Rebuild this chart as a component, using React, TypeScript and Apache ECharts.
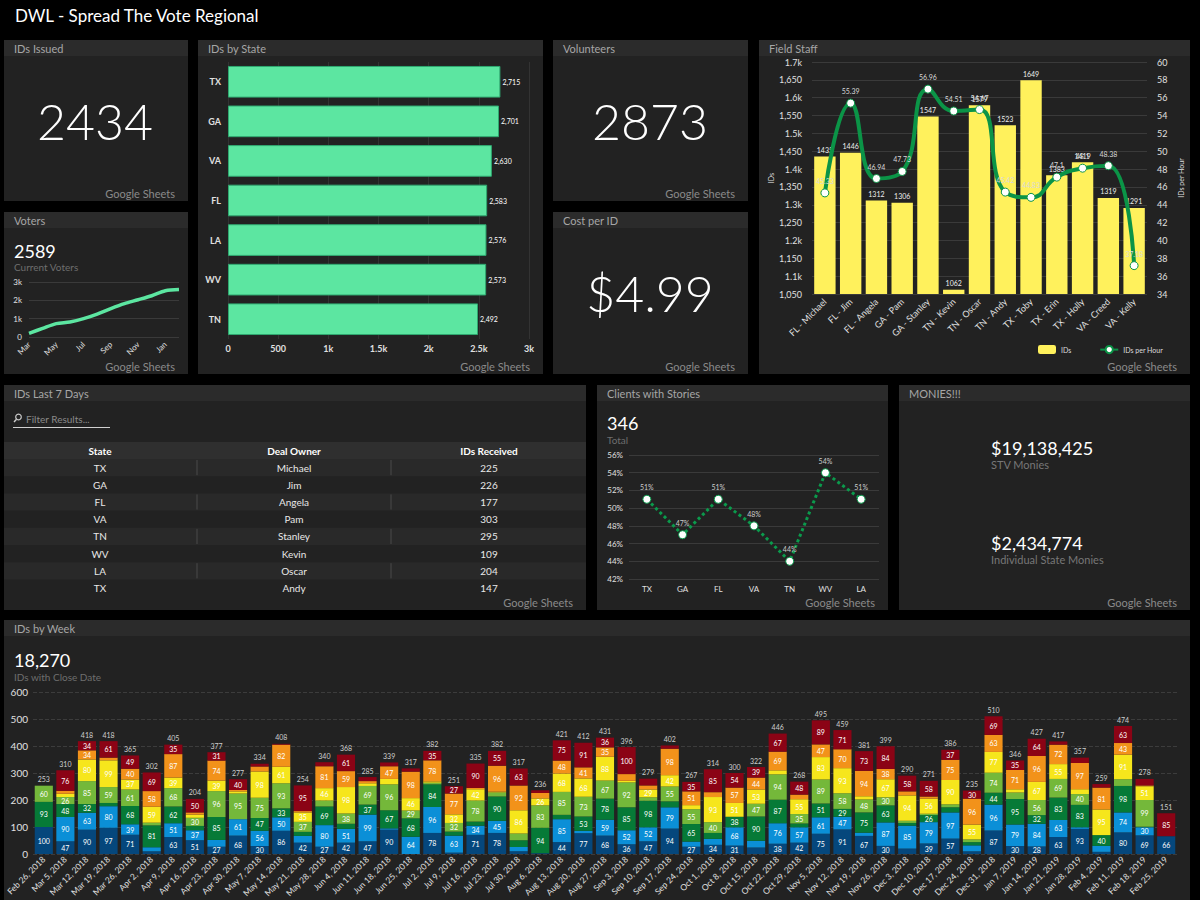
import React, { useEffect, useRef } from "react";
import * as echarts from "echarts";

const FONT = "Lato, 'Noto Sans', 'DejaVu Sans', sans-serif";

// ---------- headline numbers ----------
const dashTitle = "DWL - Spread The Vote Regional";
const idsIssued = "2434";
const volunteers = "2873";
const costPerId = "$4.99";
const currentVoters = "2589";
const storiesTotal = "346";
const weekTotal = "18,270";
const stvMonies = "$19,138,425";
const stateMonies = "$2,434,774";

// ---------- Voters ----------
const voterMonths = ["Mar", "Apr", "May", "Jun", "Jul", "Aug", "Sep", "Oct", "Nov", "Dec", "Jan", "Feb"];
const voterCounts = [200, 470, 730, 820, 1000, 1250, 1550, 1820, 2030, 2250, 2520, 2589];

// ---------- IDs by State ----------
const stateCats = ["TX", "GA", "VA", "FL", "LA", "WV", "TN"];
const stateIds = [2715, 2701, 2630, 2583, 2576, 2573, 2492];

// ---------- Field Staff ----------
const staffNames = [
  "FL - Michael", "FL - Jim", "FL - Angela", "GA - Pam", "GA - Stanley", "TN - Kevin",
  "TN - Oscar", "TN - Andy", "TX - Toby", "TX - Erin", "TX - Holly", "VA - Creed", "VA - Kelly",
];
const staffIds = [1435, 1446, 1312, 1306, 1547, 1062, 1579, 1523, 1649, 1383, 1419, 1319, 1291];
const staffRate = [45.33, 55.39, 46.94, 47.73, 56.96, 54.51, 54.67, 45.42, 44.83, 47.1, 48.1, 48.38, 37.18];

// ---------- Clients with Stories ----------
const storyStates = ["TX", "GA", "FL", "VA", "TN", "WV", "LA"];
const storyPct = [51, 47, 51, 48, 44, 54, 51];

// ---------- IDs Last 7 Days table ----------
const tableHead = ["State", "Deal Owner", "IDs Received"];
const tableState = ["TX", "GA", "FL", "VA", "TN", "WV", "LA", "TX"];
const tableOwner = ["Michael", "Jim", "Angela", "Pam", "Stanley", "Kevin", "Oscar", "Andy"];
const tableIds = [225, 226, 177, 303, 295, 109, 204, 147];

// ---------- IDs by Week ----------
const weekLabels = [
  "Feb 26, 2018", "Mar 5, 2018", "Mar 12, 2018", "Mar 19, 2018", "Mar 26, 2018", "Apr 2, 2018",
  "Apr 9, 2018", "Apr 16, 2018", "Apr 23, 2018", "Apr 30, 2018", "May 7, 2018", "May 14, 2018",
  "May 21, 2018", "May 28, 2018", "Jun 4, 2018", "Jun 11, 2018", "Jun 18, 2018", "Jun 25, 2018",
  "Jul 2, 2018", "Jul 9, 2018", "Jul 16, 2018", "Jul 23, 2018", "Jul 30, 2018", "Aug 6, 2018",
  "Aug 13, 2018", "Aug 20, 2018", "Aug 27, 2018", "Sep 3, 2018", "Sep 10, 2018", "Sep 17, 2018",
  "Sep 24, 2018", "Oct 1, 2018", "Oct 8, 2018", "Oct 15, 2018", "Oct 22, 2018", "Oct 29, 2018",
  "Nov 5, 2018", "Nov 12, 2018", "Nov 19, 2018", "Nov 26, 2018", "Dec 3, 2018", "Dec 10, 2018",
  "Dec 17, 2018", "Dec 24, 2018", "Dec 31, 2018", "Jan 7, 2019", "Jan 14, 2019", "Jan 21, 2019",
  "Jan 28, 2019", "Feb 4, 2019", "Feb 11, 2019", "Feb 18, 2019", "Feb 25, 2019",
];
const wkDarkBlue = [100,47,90,97,71,10,63,51,27,68,30,86,42,27,42,47,90,0,78,5,71,78,10,3,44,77,68,36,47,94,27,34,31,24,38,42,75,91,67,30,20,39,57,10,87,30,28,63,93,8,80,69,66];
const wkBlue = [0,90,63,80,39,15,51,37,25,61,56,50,25,80,51,99,5,64,96,63,34,45,16,0,85,9,59,52,52,79,19,22,68,25,76,57,61,47,12,87,85,79,97,22,96,79,84,63,6,22,74,30,0];
const wkDarkGreen = [93,48,32,12,68,81,62,16,85,0,47,33,15,69,19,37,67,68,84,15,15,90,25,94,16,53,78,85,98,22,65,22,38,90,87,14,51,29,75,63,10,26,19,12,44,95,32,83,83,40,98,2,0];
const wkLightGreen = [60,26,85,59,61,10,68,30,96,95,75,93,37,22,38,69,96,29,6,32,78,15,25,83,85,73,67,92,13,55,55,40,1,47,94,35,89,58,48,30,8,5,11,10,74,24,56,69,40,0,25,99,0];
const wkYellow = [0,12,80,99,37,59,39,12,39,8,98,61,35,46,98,10,20,46,5,32,42,3,86,26,68,68,88,6,29,42,15,93,51,53,15,55,83,93,12,67,94,56,90,55,77,12,67,55,18,95,91,51,0];
const wkOrange = [0,11,34,10,40,58,87,8,74,5,18,82,5,81,59,8,47,98,78,77,5,96,92,20,48,41,35,25,15,98,51,18,57,44,69,17,47,70,94,38,15,8,75,96,63,71,96,72,97,81,43,3,0];
const wkRed = [0,76,34,61,49,69,35,50,31,40,10,3,95,15,61,15,14,12,35,27,90,55,63,10,75,91,36,100,25,12,35,85,54,39,67,48,89,71,73,84,58,58,37,30,69,35,64,12,20,13,63,24,85];

const weekSeriesDefs = [
  { name: "Segment 1", data: wkDarkBlue, color: "#05477c" },
  { name: "Segment 2", data: wkBlue, color: "#0b8fd7" },
  { name: "Segment 3", data: wkDarkGreen, color: "#067a37" },
  { name: "Segment 4", data: wkLightGreen, color: "#74b83a" },
  { name: "Segment 5", data: wkYellow, color: "#f6e61c" },
  { name: "Segment 6", data: wkOrange, color: "#f2921a" },
  { name: "Segment 7", data: wkRed, color: "#8b0315" },
];

// ---------- layout helpers ----------
function txt(x: number, y: number, text: string, o: any = {}) {
  return {
    type: "text",
    z: 10,
    x,
    y,
    silent: true,
    style: {
      text,
      fill: o.fill || "#ffffff",
      fontSize: o.fontSize || 11,
      fontWeight: o.fontWeight || "normal",
      fontFamily: FONT,
      textAlign: o.align || "left",
      textVerticalAlign: "middle",
    },
  };
}

function panel(x: number, y: number, w: number, h: number, title: string, source = true) {
  const els: any[] = [
    { type: "rect", z: -10, silent: true, shape: { x, y, width: w, height: h }, style: { fill: "#222222" } },
    { type: "rect", z: -9, silent: true, shape: { x, y, width: w, height: 16 }, style: { fill: "#2b2b2b" } },
    txt(x + 10, y + 8.5, title, { fill: "#a6a6a6", fontSize: 11 }),
  ];
  if (source) els.push(txt(x + w - 13, y + h - 8, "Google Sheets", { fill: "#8a8a8a", fontSize: 11, align: "right" }));
  return els;
}

function buildGraphics() {
  const g: any[] = [];
  g.push(txt(15, 15, dashTitle, { fontSize: 17 }));
  g.push(...panel(4, 40, 184, 161, "IDs Issued"));
  g.push(...panel(4, 212, 184, 162, "Voters"));
  g.push(...panel(198, 40, 345, 334, "IDs by State"));
  g.push(...panel(553, 40, 195, 161, "Volunteers"));
  g.push(...panel(553, 212, 195, 162, "Cost per ID"));
  g.push(...panel(759, 40, 431, 334, "Field Staff"));
  g.push(...panel(4, 385, 582, 225, "IDs Last 7 Days"));
  g.push(...panel(597, 385, 291, 225, "Clients with Stories"));
  g.push(...panel(899, 385, 291, 225, "MONIES!!!"));
  g.push(...panel(4, 620, 1186, 280, "IDs by Week", false));

  // big numbers
  g.push(txt(95, 121, idsIssued, { fontSize: 50, fontWeight: 300, align: "center" }));
  g.push(txt(650, 121, volunteers, { fontSize: 50, fontWeight: 300, align: "center" }));
  g.push(txt(650, 293, costPerId, { fontSize: 50, fontWeight: 300, align: "center" }));

  // voters header
  g.push(txt(14, 251, currentVoters, { fontSize: 18 }));
  g.push(txt(14, 267, "Current Voters", { fontSize: 10, fill: "#6e6e6e" }));

  // clients header
  g.push(txt(607, 423, storiesTotal, { fontSize: 18 }));
  g.push(txt(607, 440, "Total", { fontSize: 10, fill: "#6e6e6e" }));

  // monies
  g.push(txt(991, 448, stvMonies, { fontSize: 18 }));
  g.push(txt(991, 464, "STV Monies", { fontSize: 11, fill: "#777777" }));
  g.push(txt(991, 543, stateMonies, { fontSize: 18 }));
  g.push(txt(991, 559, "Individual State Monies", { fontSize: 11, fill: "#777777" }));

  // week header
  g.push(txt(14, 660, weekTotal, { fontSize: 18 }));
  g.push(txt(14, 677, "IDs with Close Date", { fontSize: 10, fill: "#6e6e6e" }));

  // filter box
  g.push({ type: "circle", z: 10, silent: true, shape: { cx: 18.5, cy: 417, r: 2.8 }, style: { fill: "none", stroke: "#cccccc", lineWidth: 1.2 } });
  g.push({ type: "line", z: 10, silent: true, shape: { x1: 16.5, y1: 419.2, x2: 14, y2: 422 }, style: { stroke: "#cccccc", lineWidth: 1.4 } });
  g.push(txt(26, 419, "Filter Results...", { fontSize: 10, fill: "#8a8a8a" }));
  g.push({ type: "line", z: 10, silent: true, shape: { x1: 13, y1: 427.5, x2: 110, y2: 427.5 }, style: { stroke: "#d0d0d0", lineWidth: 1 } });

  // table
  const colX = [100, 294, 489];
  const sepX = [197, 391];
  g.push({ type: "rect", z: -8, silent: true, shape: { x: 4, y: 442, width: 582, height: 17 }, style: { fill: "#2f2f2f" } });
  tableHead.forEach((h, i) => g.push(txt(colX[i], 450.5, h, { fontSize: 10, fontWeight: "bold", align: "center" })));
  const rowH = 17.2;
  tableState.forEach((s, i) => {
    const top = 459 + i * rowH;
    const cy = top + rowH / 2;
    if (i % 2 === 0) {
      g.push({ type: "rect", z: -8, silent: true, shape: { x: 4, y: top, width: 582, height: rowH }, style: { fill: "#292929" } });
      sepX.forEach((sx) =>
        g.push({ type: "line", z: 9, silent: true, shape: { x1: sx, y1: top + 1, x2: sx, y2: top + rowH - 1 }, style: { stroke: "#4a4a4a", lineWidth: 1 } })
      );
    }
    g.push(txt(colX[0], cy, s, { fontSize: 10, fill: "#e8e8e8", align: "center" }));
    g.push(txt(colX[1], cy, tableOwner[i], { fontSize: 10, fill: "#e8e8e8", align: "center" }));
    g.push(txt(colX[2], cy, String(tableIds[i]), { fontSize: 10, fill: "#e8e8e8", align: "center" }));
  });
  return g;
}

const axisLbl = (o: any = {}) => ({ color: "#e0e0e0", fontSize: 9, fontFamily: FONT, ...o });
const split = (c = "#383838", type = "solid") => ({ show: true, lineStyle: { color: c, width: 1, type } });

function buildOption() {
  const weekTotals = weekLabels.map((_, i) => weekSeriesDefs.reduce((s, d) => s + d.data[i], 0));
  const kFmt = (v: number) => (v === 0 ? "0" : v < 1000 ? String(v) : v / 1000 + "k");

  const weekSeries: any[] = weekSeriesDefs.map((d) => ({
    type: "bar",
    name: d.name,
    stack: "wk",
    xAxisIndex: 4,
    yAxisIndex: 5,
    barCategoryGap: "16%",
    data: d.data,
    itemStyle: { color: d.color },
    label: {
      show: true,
      position: "inside",
      fontSize: 7,
      color: "#ffffff",
      fontFamily: FONT,
      formatter: (p: any) => (p.value >= 26 ? String(p.value) : ""),
    },
  }));
  weekSeries.push({
    type: "bar",
    name: "Total",
    stack: "wk",
    xAxisIndex: 4,
    yAxisIndex: 5,
    data: weekTotals.map(() => 0),
    itemStyle: { color: "transparent" },
    label: {
      show: true,
      position: "top",
      fontSize: 7,
      color: "#cfcfcf",
      distance: 3,
      fontFamily: FONT,
      formatter: (p: any) => String(weekTotals[p.dataIndex]),
    },
  });

  return {
    animation: false,
    backgroundColor: "#000000",
    textStyle: { fontFamily: FONT },
    grid: [
      { left: 29, top: 282, width: 150, height: 55, containLabel: false, outerBoundsMode: "none" },
      { left: 228, top: 62, width: 301, height: 277, containLabel: false, outerBoundsMode: "none" },
      { left: 812, top: 62, width: 335, height: 232, containLabel: false, outerBoundsMode: "none" },
      { left: 629, top: 455, width: 250, height: 124, containLabel: false, outerBoundsMode: "none" },
      { left: 33, top: 692, width: 1144, height: 162, containLabel: false, outerBoundsMode: "none" },
    ],
    legend: {
      data: ["IDs", "IDs per Hour"],
      left: 1033,
      top: 340,
      itemWidth: 18,
      itemHeight: 9,
      itemGap: 28,
      textStyle: { color: "#dddddd", fontSize: 7, fontFamily: FONT },
    },
    xAxis: [
      {
        gridIndex: 0, type: "category", data: voterMonths, boundaryGap: false,
        axisLine: { show: false }, axisTick: { show: false },
        axisLabel: axisLbl({ fontSize: 8, rotate: 45, interval: 1, margin: 6 }),
      },
      {
        gridIndex: 1, type: "value", min: 0, max: 3000, interval: 500,
        axisLabel: axisLbl({ formatter: kFmt, margin: 5, fontWeight: "bold" }),
        splitLine: split("#333333"),
      },
      {
        gridIndex: 2, type: "category", data: staffNames,
        axisLine: { show: false }, axisTick: { show: false },
        axisLabel: axisLbl({ rotate: 45, interval: 0, margin: 6 }),
      },
      {
        gridIndex: 3, type: "category", data: storyStates,
        axisLine: { show: false }, axisTick: { show: false },
        axisLabel: axisLbl({ fontSize: 8, margin: 6 }),
      },
      {
        gridIndex: 4, type: "category", data: weekLabels,
        axisLine: { show: false }, axisTick: { show: false },
        axisLabel: axisLbl({ rotate: 45, interval: 0, margin: 4, fontSize: 8.5 }),
      },
    ],
    yAxis: [
      {
        gridIndex: 0, type: "value", min: 0, max: 3000, interval: 1000,
        axisLabel: axisLbl({ fontSize: 8, formatter: kFmt, margin: 7 }),
        splitLine: split("#3a3a3a"),
      },
      {
        gridIndex: 1, type: "category", data: stateCats, inverse: true,
        axisLine: { show: false }, axisTick: { show: false },
        axisLabel: axisLbl({ margin: 7, fontWeight: "bold" }),
      },
      {
        gridIndex: 2, type: "value", min: 1050, max: 1700, interval: 50,
        name: "IDs", nameLocation: "middle", nameGap: 38, nameRotate: 90,
        nameTextStyle: { color: "#dddddd", fontSize: 7, fontFamily: FONT },
        axisLabel: axisLbl({
          margin: 10,
          formatter: (v: number) => (v % 100 === 0 ? (v / 1000).toFixed(1) + "k" : v.toLocaleString("en-US")),
        }),
        splitLine: split("#3a3a3a"),
      },
      {
        gridIndex: 2, type: "value", position: "right", min: 34, max: 60, interval: 2,
        name: "IDs per Hour", nameLocation: "middle", nameGap: 30, nameRotate: 90,
        nameTextStyle: { color: "#dddddd", fontSize: 7, fontFamily: FONT },
        axisLabel: axisLbl({ margin: 10 }),
        splitLine: { show: false },
      },
      {
        gridIndex: 3, type: "value", min: 42, max: 56, interval: 2,
        axisLabel: axisLbl({ fontSize: 8, formatter: "{value}%", margin: 6 }),
        splitLine: split("#3a3a3a"),
      },
      {
        gridIndex: 4, type: "value", min: 0, max: 600, interval: 100,
        axisLabel: axisLbl({ fontSize: 10, margin: 5 }),
        splitLine: split("#3c3c3c", "dashed"),
      },
    ],
    series: [
      {
        type: "line", name: "Voters", xAxisIndex: 0, yAxisIndex: 0, data: voterCounts,
        smooth: 0.3, showSymbol: false, lineStyle: { color: "#5ce6a1", width: 3.5 },
      },
      {
        type: "bar", name: "IDs by State", xAxisIndex: 1, yAxisIndex: 1, data: stateIds,
        barCategoryGap: "20%",
        itemStyle: { color: "#5ce6a1", borderColor: "#2fa870", borderWidth: 1 },
        label: {
          show: true, position: "right", distance: 2, fontSize: 7, color: "#ffffff", fontFamily: FONT,
          formatter: (p: any) => Number(p.value).toLocaleString("en-US"),
        },
      },
      {
        type: "bar", name: "IDs", xAxisIndex: 2, yAxisIndex: 2, data: staffIds,
        barCategoryGap: "17%",
        itemStyle: { color: "#fff15c" },
        label: { show: true, position: "top", distance: 3, fontSize: 7, color: "#eeeeee", fontFamily: FONT },
      },
      {
        type: "line", name: "IDs per Hour", xAxisIndex: 2, yAxisIndex: 3, data: staffRate,
        smooth: 0.5, symbol: "circle", symbolSize: 8, z: 5,
        lineStyle: { color: "#0b9447", width: 4 },
        itemStyle: { color: "#ffffff", borderColor: "#0b9447", borderWidth: 1 },
        label: { show: true, position: "top", distance: 4, fontSize: 7, color: "#d8d8d8", fontFamily: FONT },
      },
      {
        type: "line", name: "Clients with Stories", xAxisIndex: 3, yAxisIndex: 4, data: storyPct,
        symbol: "circle", symbolSize: 8,
        lineStyle: { color: "#0b9a4c", width: 3, type: "dotted" },
        itemStyle: { color: "#ffffff", borderColor: "#0b9a4c", borderWidth: 1 },
        label: { show: true, position: "top", distance: 4, fontSize: 7, color: "#cccccc", fontFamily: FONT, formatter: "{c}%" },
      },
      ...weekSeries,
    ],
    graphic: { elements: buildGraphics() },
  };
}

export default function App() {
  const ref = useRef<HTMLDivElement>(null);
  useEffect(() => {
    if (!ref.current) return;
    const chart = echarts.init(ref.current, undefined, { renderer: "svg" });
    chart.setOption(buildOption() as any);
    return () => chart.dispose();
  }, []);
  return (
    <div style={{ position: "fixed", left: 0, top: 0, width: 1200, height: 900, background: "#000" }}>
      <div ref={ref} style={{ width: 1200, height: 900 }} />
    </div>
  );
}
